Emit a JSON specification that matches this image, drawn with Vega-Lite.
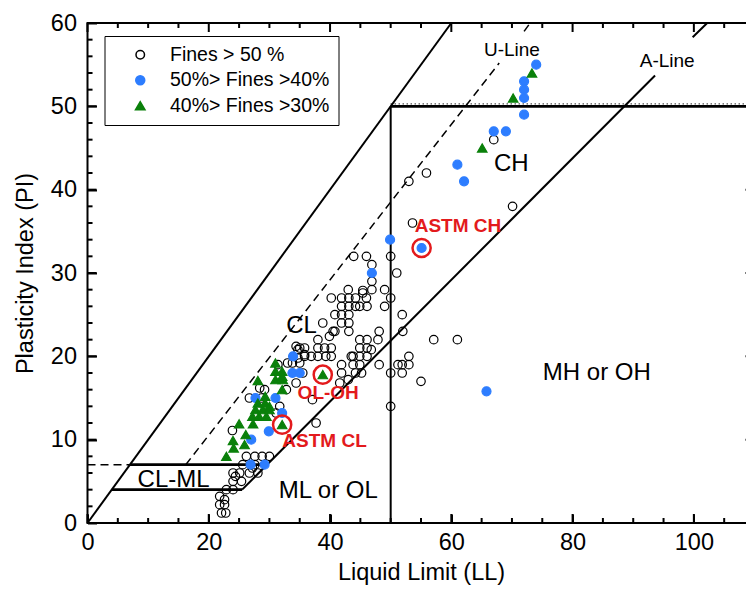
{
  "$schema": "https://vega.github.io/schema/vega-lite/v6.json",
  "width": 667,
  "height": 500,
  "autosize": "none",
  "padding": {"left": 87.5, "top": 23, "right": -8.5, "bottom": 68},
  "config": {
    "font": "Liberation Sans",
    "view": {"stroke": "black", "strokeWidth": 2},
    "axis": {"grid": false, "domain": false, "labelColor": "black", "titleColor": "black", "labelFont": "Liberation Sans", "titleFont": "Liberation Sans", "labelFontSize": 23.5, "titleFontSize": 23.5, "titleFontWeight": "normal", "labelOverlap": false, "labelFlush": false}
  },
  "datasets": {
    "xticks": [
      {"v": 0, "t": "major"}, {"v": 5, "t": "minor"}, {"v": 10, "t": "minor"}, {"v": 15, "t": "minor"},
      {"v": 20, "t": "major"}, {"v": 25, "t": "minor"}, {"v": 30, "t": "minor"}, {"v": 35, "t": "minor"},
      {"v": 40, "t": "major"}, {"v": 45, "t": "minor"}, {"v": 50, "t": "minor"}, {"v": 55, "t": "minor"},
      {"v": 60, "t": "major"}, {"v": 65, "t": "minor"}, {"v": 70, "t": "minor"}, {"v": 75, "t": "minor"},
      {"v": 80, "t": "major"}, {"v": 85, "t": "minor"}, {"v": 90, "t": "minor"}, {"v": 95, "t": "minor"},
      {"v": 100, "t": "major"}, {"v": 105, "t": "minor"}
    ],
    "yticks": [
      {"v": 0, "t": "major"}, {"v": 2, "t": "minor"}, {"v": 4, "t": "minor"}, {"v": 6, "t": "minor"}, {"v": 8, "t": "minor"},
      {"v": 10, "t": "major"}, {"v": 12, "t": "minor"}, {"v": 14, "t": "minor"}, {"v": 16, "t": "minor"}, {"v": 18, "t": "minor"},
      {"v": 20, "t": "major"}, {"v": 22, "t": "minor"}, {"v": 24, "t": "minor"}, {"v": 26, "t": "minor"}, {"v": 28, "t": "minor"},
      {"v": 30, "t": "major"}, {"v": 32, "t": "minor"}, {"v": 34, "t": "minor"}, {"v": 36, "t": "minor"}, {"v": 38, "t": "minor"},
      {"v": 40, "t": "major"}, {"v": 42, "t": "minor"}, {"v": 44, "t": "minor"}, {"v": 46, "t": "minor"}, {"v": 48, "t": "minor"},
      {"v": 50, "t": "major"}, {"v": 52, "t": "minor"}, {"v": 54, "t": "minor"}, {"v": 56, "t": "minor"}, {"v": 58, "t": "minor"},
      {"v": 60, "t": "major"}
    ],
    "lines": [
      {"seg": "PI=LL", "kind": "solid", "o": 0, "ll": 0, "pi": 0},
      {"seg": "PI=LL", "kind": "solid", "o": 1, "ll": 60, "pi": 60},
      {"seg": "A1", "kind": "solid", "o": 0, "ll": 25.5, "pi": 4},
      {"seg": "A1", "kind": "solid", "o": 1, "ll": 93.6, "pi": 53.7},
      {"seg": "A2", "kind": "solid", "o": 0, "ll": 99.8, "pi": 58.3},
      {"seg": "A2", "kind": "solid", "o": 1, "ll": 102.2, "pi": 60},
      {"seg": "LL50", "kind": "solid", "o": 0, "ll": 50, "pi": 0},
      {"seg": "LL50", "kind": "solid", "o": 1, "ll": 50, "pi": 50},
      {"seg": "PI50", "kind": "thick", "o": 0, "ll": 50, "pi": 50},
      {"seg": "PI50", "kind": "thick", "o": 1, "ll": 110, "pi": 50},
      {"seg": "PI7", "kind": "thick", "o": 0, "ll": 7, "pi": 7},
      {"seg": "PI7", "kind": "thick", "o": 1, "ll": 29.6, "pi": 7},
      {"seg": "PI4", "kind": "thick", "o": 0, "ll": 4, "pi": 4},
      {"seg": "PI4", "kind": "thick", "o": 1, "ll": 25.5, "pi": 4},
      {"seg": "PI7d", "kind": "dash", "o": 0, "ll": 0, "pi": 7},
      {"seg": "PI7d", "kind": "dash", "o": 1, "ll": 7, "pi": 7},
      {"seg": "U1", "kind": "dash", "o": 0, "ll": 16.2, "pi": 7},
      {"seg": "U1", "kind": "dash", "o": 1, "ll": 67.9, "pi": 55.2},
      {"seg": "U2", "kind": "dash", "o": 0, "ll": 72, "pi": 59},
      {"seg": "U2", "kind": "dash", "o": 1, "ll": 73, "pi": 60},
      {"seg": "PI50dot", "kind": "dot", "o": 0, "ll": 50, "pi": 50.3},
      {"seg": "PI50dot", "kind": "dot", "o": 1, "ll": 110, "pi": 50.3}
    ],
    "points": [
      {"s": "Fines > 50 %", "ll": 67, "pi": 46}, {"s": "Fines > 50 %", "ll": 55.9, "pi": 42}, {"s": "Fines > 50 %", "ll": 53, "pi": 41},
      {"s": "Fines > 50 %", "ll": 70.1, "pi": 38}, {"s": "Fines > 50 %", "ll": 53.6, "pi": 36}, {"s": "Fines > 50 %", "ll": 43.9, "pi": 32},
      {"s": "Fines > 50 %", "ll": 46, "pi": 32}, {"s": "Fines > 50 %", "ll": 50, "pi": 32}, {"s": "Fines > 50 %", "ll": 46.9, "pi": 31},
      {"s": "Fines > 50 %", "ll": 51, "pi": 30}, {"s": "Fines > 50 %", "ll": 46.9, "pi": 29}, {"s": "Fines > 50 %", "ll": 46.9, "pi": 28},
      {"s": "Fines > 50 %", "ll": 43, "pi": 28}, {"s": "Fines > 50 %", "ll": 49, "pi": 28}, {"s": "Fines > 50 %", "ll": 45.4, "pi": 27.6},
      {"s": "Fines > 50 %", "ll": 50, "pi": 27}, {"s": "Fines > 50 %", "ll": 49, "pi": 26}, {"s": "Fines > 50 %", "ll": 51.9, "pi": 25},
      {"s": "Fines > 50 %", "ll": 52, "pi": 23}, {"s": "Fines > 50 %", "ll": 57.1, "pi": 22}, {"s": "Fines > 50 %", "ll": 61, "pi": 22},
      {"s": "Fines > 50 %", "ll": 53, "pi": 20}, {"s": "Fines > 50 %", "ll": 51.9, "pi": 19}, {"s": "Fines > 50 %", "ll": 53, "pi": 19},
      {"s": "Fines > 50 %", "ll": 51.9, "pi": 18}, {"s": "Fines > 50 %", "ll": 50, "pi": 18}, {"s": "Fines > 50 %", "ll": 55, "pi": 17},
      {"s": "Fines > 50 %", "ll": 50, "pi": 14}, {"s": "Fines > 50 %", "ll": 46, "pi": 27}, {"s": "Fines > 50 %", "ll": 46.1, "pi": 26},
      {"s": "Fines > 50 %", "ll": 41.9, "pi": 27}, {"s": "Fines > 50 %", "ll": 43.1, "pi": 27}, {"s": "Fines > 50 %", "ll": 44.2, "pi": 27},
      {"s": "Fines > 50 %", "ll": 40.2, "pi": 27}, {"s": "Fines > 50 %", "ll": 41.9, "pi": 26}, {"s": "Fines > 50 %", "ll": 43.1, "pi": 26},
      {"s": "Fines > 50 %", "ll": 44.2, "pi": 26}, {"s": "Fines > 50 %", "ll": 44.9, "pi": 26}, {"s": "Fines > 50 %", "ll": 41.9, "pi": 25},
      {"s": "Fines > 50 %", "ll": 43.1, "pi": 25}, {"s": "Fines > 50 %", "ll": 40.8, "pi": 25}, {"s": "Fines > 50 %", "ll": 41.9, "pi": 24},
      {"s": "Fines > 50 %", "ll": 43.1, "pi": 24}, {"s": "Fines > 50 %", "ll": 40.8, "pi": 23}, {"s": "Fines > 50 %", "ll": 43.1, "pi": 23},
      {"s": "Fines > 50 %", "ll": 38.8, "pi": 24}, {"s": "Fines > 50 %", "ll": 39.9, "pi": 22.4}, {"s": "Fines > 50 %", "ll": 38, "pi": 22},
      {"s": "Fines > 50 %", "ll": 39.1, "pi": 21}, {"s": "Fines > 50 %", "ll": 38, "pi": 21}, {"s": "Fines > 50 %", "ll": 40.2, "pi": 21},
      {"s": "Fines > 50 %", "ll": 36.9, "pi": 20}, {"s": "Fines > 50 %", "ll": 38, "pi": 20}, {"s": "Fines > 50 %", "ll": 39.3, "pi": 20},
      {"s": "Fines > 50 %", "ll": 40.2, "pi": 20}, {"s": "Fines > 50 %", "ll": 35.8, "pi": 21}, {"s": "Fines > 50 %", "ll": 34.7, "pi": 20.8},
      {"s": "Fines > 50 %", "ll": 35.8, "pi": 20}, {"s": "Fines > 50 %", "ll": 41.9, "pi": 19}, {"s": "Fines > 50 %", "ll": 43.5, "pi": 20},
      {"s": "Fines > 50 %", "ll": 44.9, "pi": 22}, {"s": "Fines > 50 %", "ll": 46.1, "pi": 22}, {"s": "Fines > 50 %", "ll": 47.9, "pi": 22},
      {"s": "Fines > 50 %", "ll": 48.1, "pi": 23}, {"s": "Fines > 50 %", "ll": 46.8, "pi": 20.8}, {"s": "Fines > 50 %", "ll": 44.9, "pi": 21},
      {"s": "Fines > 50 %", "ll": 46.1, "pi": 21}, {"s": "Fines > 50 %", "ll": 43.8, "pi": 20}, {"s": "Fines > 50 %", "ll": 44.9, "pi": 20},
      {"s": "Fines > 50 %", "ll": 46.1, "pi": 20}, {"s": "Fines > 50 %", "ll": 43.8, "pi": 19}, {"s": "Fines > 50 %", "ll": 44.9, "pi": 19},
      {"s": "Fines > 50 %", "ll": 44.2, "pi": 18}, {"s": "Fines > 50 %", "ll": 45.2, "pi": 18}, {"s": "Fines > 50 %", "ll": 48.1, "pi": 19},
      {"s": "Fines > 50 %", "ll": 51.2, "pi": 19}, {"s": "Fines > 50 %", "ll": 43, "pi": 17.2}, {"s": "Fines > 50 %", "ll": 41.9, "pi": 18},
      {"s": "Fines > 50 %", "ll": 41.6, "pi": 16.8}, {"s": "Fines > 50 %", "ll": 37.1, "pi": 14.8}, {"s": "Fines > 50 %", "ll": 34.4, "pi": 16.8},
      {"s": "Fines > 50 %", "ll": 35, "pi": 21}, {"s": "Fines > 50 %", "ll": 40.5, "pi": 23}, {"s": "Fines > 50 %", "ll": 45.4, "pi": 27.9},
      {"s": "Fines > 50 %", "ll": 33, "pi": 19.2}, {"s": "Fines > 50 %", "ll": 35.5, "pi": 18}, {"s": "Fines > 50 %", "ll": 35.8, "pi": 20.2},
      {"s": "Fines > 50 %", "ll": 35, "pi": 19.2}, {"s": "Fines > 50 %", "ll": 32.8, "pi": 16}, {"s": "Fines > 50 %", "ll": 29.2, "pi": 16},
      {"s": "Fines > 50 %", "ll": 31.7, "pi": 14}, {"s": "Fines > 50 %", "ll": 31.4, "pi": 19}, {"s": "Fines > 50 %", "ll": 33.8, "pi": 19.2},
      {"s": "Fines > 50 %", "ll": 34.7, "pi": 19.8}, {"s": "Fines > 50 %", "ll": 28.4, "pi": 16.2}, {"s": "Fines > 50 %", "ll": 28.7, "pi": 15},
      {"s": "Fines > 50 %", "ll": 31.1, "pi": 13.2}, {"s": "Fines > 50 %", "ll": 37.7, "pi": 12}, {"s": "Fines > 50 %", "ll": 26.7, "pi": 15},
      {"s": "Fines > 50 %", "ll": 23.9, "pi": 11.1}, {"s": "Fines > 50 %", "ll": 26.2, "pi": 8}, {"s": "Fines > 50 %", "ll": 27.6, "pi": 8},
      {"s": "Fines > 50 %", "ll": 28.8, "pi": 8}, {"s": "Fines > 50 %", "ll": 30, "pi": 8}, {"s": "Fines > 50 %", "ll": 25.6, "pi": 7},
      {"s": "Fines > 50 %", "ll": 27.6, "pi": 7}, {"s": "Fines > 50 %", "ll": 24, "pi": 6}, {"s": "Fines > 50 %", "ll": 25.1, "pi": 6},
      {"s": "Fines > 50 %", "ll": 26.7, "pi": 6}, {"s": "Fines > 50 %", "ll": 28.1, "pi": 6}, {"s": "Fines > 50 %", "ll": 24, "pi": 5},
      {"s": "Fines > 50 %", "ll": 25.4, "pi": 5}, {"s": "Fines > 50 %", "ll": 22.9, "pi": 4}, {"s": "Fines > 50 %", "ll": 24, "pi": 4},
      {"s": "Fines > 50 %", "ll": 21.8, "pi": 3.2}, {"s": "Fines > 50 %", "ll": 22.6, "pi": 2.8}, {"s": "Fines > 50 %", "ll": 21.8, "pi": 2.2},
      {"s": "Fines > 50 %", "ll": 22.6, "pi": 2.2}, {"s": "Fines > 50 %", "ll": 22.1, "pi": 1.2}, {"s": "Fines > 50 %", "ll": 22.8, "pi": 1.2},
      {"s": "Fines > 50 %", "ll": 27.2, "pi": 6.6}, {"s": "Fines > 50 %", "ll": 24.4, "pi": 5.6}, {"s": "Fines > 50 %", "ll": 34.4, "pi": 21.2},
      {"s": "50%> Fines >40%", "ll": 74, "pi": 55}, {"s": "50%> Fines >40%", "ll": 72, "pi": 53}, {"s": "50%> Fines >40%", "ll": 72, "pi": 52},
      {"s": "50%> Fines >40%", "ll": 72, "pi": 51}, {"s": "50%> Fines >40%", "ll": 72, "pi": 49}, {"s": "50%> Fines >40%", "ll": 67, "pi": 47},
      {"s": "50%> Fines >40%", "ll": 69, "pi": 47}, {"s": "50%> Fines >40%", "ll": 61, "pi": 43}, {"s": "50%> Fines >40%", "ll": 62.1, "pi": 41},
      {"s": "50%> Fines >40%", "ll": 55.1, "pi": 33}, {"s": "50%> Fines >40%", "ll": 49.9, "pi": 34}, {"s": "50%> Fines >40%", "ll": 46.9, "pi": 30},
      {"s": "50%> Fines >40%", "ll": 65.8, "pi": 15.8}, {"s": "50%> Fines >40%", "ll": 33.9, "pi": 20}, {"s": "50%> Fines >40%", "ll": 33.8, "pi": 18},
      {"s": "50%> Fines >40%", "ll": 35, "pi": 18}, {"s": "50%> Fines >40%", "ll": 27.7, "pi": 15}, {"s": "50%> Fines >40%", "ll": 31, "pi": 15},
      {"s": "50%> Fines >40%", "ll": 32.1, "pi": 13.2}, {"s": "50%> Fines >40%", "ll": 29.9, "pi": 11}, {"s": "50%> Fines >40%", "ll": 27, "pi": 10},
      {"s": "50%> Fines >40%", "ll": 26.9, "pi": 7}, {"s": "50%> Fines >40%", "ll": 29.2, "pi": 7},
      {"s": "40%> Fines >30%", "ll": 73.3, "pi": 54}, {"s": "40%> Fines >30%", "ll": 70.2, "pi": 51}, {"s": "40%> Fines >30%", "ll": 65.1, "pi": 45},
      {"s": "40%> Fines >30%", "ll": 38.8, "pi": 17.8}, {"s": "40%> Fines >30%", "ll": 31, "pi": 19.2}, {"s": "40%> Fines >30%", "ll": 31, "pi": 18.2},
      {"s": "40%> Fines >30%", "ll": 32.1, "pi": 18.2}, {"s": "40%> Fines >30%", "ll": 31, "pi": 17.2}, {"s": "40%> Fines >30%", "ll": 32.2, "pi": 17.2},
      {"s": "40%> Fines >30%", "ll": 28.1, "pi": 17.1}, {"s": "40%> Fines >30%", "ll": 32.1, "pi": 16}, {"s": "40%> Fines >30%", "ll": 29.3, "pi": 15.2},
      {"s": "40%> Fines >30%", "ll": 28.1, "pi": 14.4}, {"s": "40%> Fines >30%", "ll": 29.3, "pi": 14.4}, {"s": "40%> Fines >30%", "ll": 30, "pi": 14},
      {"s": "40%> Fines >30%", "ll": 27.7, "pi": 13.6}, {"s": "40%> Fines >30%", "ll": 28.9, "pi": 13.6}, {"s": "40%> Fines >30%", "ll": 30, "pi": 13.6},
      {"s": "40%> Fines >30%", "ll": 27.2, "pi": 12.8}, {"s": "40%> Fines >30%", "ll": 28.3, "pi": 12.8}, {"s": "40%> Fines >30%", "ll": 29.5, "pi": 12.8},
      {"s": "40%> Fines >30%", "ll": 27.3, "pi": 11.9}, {"s": "40%> Fines >30%", "ll": 32.1, "pi": 11.8}, {"s": "40%> Fines >30%", "ll": 25, "pi": 11.9},
      {"s": "40%> Fines >30%", "ll": 26.1, "pi": 10.6}, {"s": "40%> Fines >30%", "ll": 24, "pi": 9.9}, {"s": "40%> Fines >30%", "ll": 25.9, "pi": 9.4},
      {"s": "40%> Fines >30%", "ll": 24.1, "pi": 9}, {"s": "40%> Fines >30%", "ll": 22.9, "pi": 8}, {"s": "40%> Fines >30%", "ll": 32.1, "pi": 17.6}
    ],
    "rings": [
      {"name": "ASTM CH", "ll": 55.1, "pi": 33},
      {"name": "OL-OH", "ll": 38.8, "pi": 17.8},
      {"name": "ASTM CL", "ll": 32.1, "pi": 11.8}
    ],
    "labels": [
      {"kind": "big", "text": "CH", "ll": 69.9, "pi": 43.1},
      {"kind": "big", "text": "CL", "ll": 35.3, "pi": 23.6},
      {"kind": "big", "text": "CL-ML", "ll": 14.2, "pi": 5.2},
      {"kind": "big", "text": "ML or OL", "ll": 39.7, "pi": 3.8},
      {"kind": "big", "text": "MH or OH", "ll": 84, "pi": 18},
      {"kind": "line", "text": "U-Line", "ll": 70, "pi": 56.8},
      {"kind": "line", "text": "A-Line", "ll": 95.6, "pi": 55.5},
      {"kind": "astm", "text": "ASTM CH", "ll": 61.1, "pi": 35.6},
      {"kind": "astm", "text": "OL-OH", "ll": 39.7, "pi": 15.6},
      {"kind": "astm", "text": "ASTM CL", "ll": 39.1, "pi": 9.9}
    ]
  },
  "layer": [
    {
      "data": {"name": "lines"},
      "transform": [{"filter": "datum.kind === 'solid'"}],
      "mark": {"type": "line", "color": "black", "strokeWidth": 2},
      "encoding": {
        "x": {"field": "ll", "type": "quantitative", "scale": {"domain": [0, 110], "nice": false, "zero": false},
          "axis": {"orient": "bottom", "title": "Liquid Limit (LL)", "values": [0, 20, 40, 60, 80, 100], "ticks": true, "tickColor": "black", "tickWidth": 2, "offset": -9, "tickSize": 9, "labelPadding": 7, "titlePadding": 7}},
        "y": {"field": "pi", "type": "quantitative", "scale": {"domain": [0, 60], "nice": false, "zero": false},
          "axis": {"orient": "left", "title": "Plasticity Index (PI)", "values": [0, 10, 20, 30, 40, 50, 60], "ticks": true, "tickColor": "black", "tickWidth": 2, "offset": -9, "tickSize": 9, "labelPadding": 11, "titlePadding": 13}},
        "detail": {"field": "seg"},
        "order": {"field": "o"}
      }
    },
    {
      "data": {"name": "lines"},
      "transform": [{"filter": "datum.kind === 'thick'"}],
      "mark": {"type": "line", "color": "black", "strokeWidth": 2.8},
      "encoding": {
        "x": {"field": "ll", "type": "quantitative", "axis": null},
        "y": {"field": "pi", "type": "quantitative", "axis": null},
        "detail": {"field": "seg"},
        "order": {"field": "o"}
      }
    },
    {
      "data": {"name": "lines"},
      "transform": [{"filter": "datum.kind === 'dash'"}],
      "mark": {"type": "line", "color": "black", "strokeWidth": 1.5, "strokeDash": [8, 5]},
      "encoding": {
        "x": {"field": "ll", "type": "quantitative", "axis": null},
        "y": {"field": "pi", "type": "quantitative", "axis": null},
        "detail": {"field": "seg"},
        "order": {"field": "o"}
      }
    },
    {
      "data": {"name": "lines"},
      "transform": [{"filter": "datum.kind === 'dot'"}],
      "mark": {"type": "line", "color": "black", "strokeWidth": 1.2, "strokeDash": [1, 3]},
      "encoding": {
        "x": {"field": "ll", "type": "quantitative", "axis": null},
        "y": {"field": "pi", "type": "quantitative", "axis": null},
        "detail": {"field": "seg"},
        "order": {"field": "o"}
      }
    },
    {
      "data": {"name": "xticks"},
      "transform": [{"filter": "datum.t === 'major'"}],
      "mark": {"type": "rule", "color": "black", "strokeWidth": 2},
      "encoding": {"x": {"field": "v", "type": "quantitative", "axis": null}, "y": {"datum": 0, "type": "quantitative", "axis": null}, "y2": {"datum": 1.08}}
    },
    {
      "data": {"name": "xticks"},
      "transform": [{"filter": "datum.t === 'minor'"}],
      "mark": {"type": "rule", "color": "black", "strokeWidth": 2},
      "encoding": {"x": {"field": "v", "type": "quantitative", "axis": null}, "y": {"datum": 0, "type": "quantitative", "axis": null}, "y2": {"datum": 0.6}}
    },
    {
      "data": {"name": "xticks"},
      "transform": [{"filter": "datum.t === 'major'"}],
      "mark": {"type": "rule", "color": "black", "strokeWidth": 2},
      "encoding": {"x": {"field": "v", "type": "quantitative", "axis": null}, "y": {"datum": 60, "type": "quantitative", "axis": null}, "y2": {"datum": 58.92}}
    },
    {
      "data": {"name": "xticks"},
      "transform": [{"filter": "datum.t === 'minor'"}],
      "mark": {"type": "rule", "color": "black", "strokeWidth": 2},
      "encoding": {"x": {"field": "v", "type": "quantitative", "axis": null}, "y": {"datum": 60, "type": "quantitative", "axis": null}, "y2": {"datum": 59.4}}
    },
    {
      "data": {"name": "yticks"},
      "transform": [{"filter": "datum.t === 'major'"}],
      "mark": {"type": "rule", "color": "black", "strokeWidth": 2},
      "encoding": {"y": {"field": "v", "type": "quantitative", "axis": null}, "x": {"datum": 0, "type": "quantitative", "axis": null}, "x2": {"datum": 1.49}}
    },
    {
      "data": {"name": "yticks"},
      "transform": [{"filter": "datum.t === 'minor'"}],
      "mark": {"type": "rule", "color": "black", "strokeWidth": 2},
      "encoding": {"y": {"field": "v", "type": "quantitative", "axis": null}, "x": {"datum": 0, "type": "quantitative", "axis": null}, "x2": {"datum": 0.83}}
    },
    {
      "data": {"name": "yticks"},
      "transform": [{"filter": "datum.t === 'major'"}],
      "mark": {"type": "rule", "color": "black", "strokeWidth": 2, "x2Offset": -9},
      "encoding": {"y": {"field": "v", "type": "quantitative", "axis": null}, "x": {"datum": 110, "type": "quantitative", "axis": null}, "x2": {"datum": 110}}
    },
    {
      "data": {"name": "yticks"},
      "transform": [{"filter": "datum.t === 'minor'"}],
      "mark": {"type": "rule", "color": "black", "strokeWidth": 2, "x2Offset": -5},
      "encoding": {"y": {"field": "v", "type": "quantitative", "axis": null}, "x": {"datum": 110, "type": "quantitative", "axis": null}, "x2": {"datum": 110}}
    },
    {
      "data": {"name": "points"},
      "mark": {"type": "point", "strokeWidth": 1.2, "opacity": 1},
      "encoding": {
        "x": {"field": "ll", "type": "quantitative", "axis": null},
        "y": {"field": "pi", "type": "quantitative", "axis": null},
        "shape": {"field": "s", "type": "nominal", "scale": {"domain": ["Fines > 50 %", "50%> Fines >40%", "40%> Fines >30%"], "range": ["circle", "circle", "triangle-up"]},
          "legend": {"orient": "none", "legendX": 17, "legendY": 13, "title": null, "padding": 9, "symbolOffset": 17, "labelOffset": 20, "labelFontSize": 19.5, "labelFont": "Liberation Sans", "rowPadding": 4.5, "strokeColor": "black",
            "encode": {"legend": {"update": {"strokeWidth": {"value": 1.5}}}, "labels": {"update": {"fill": {"signal": "datum.label === 'Fines > 50 %' ? 'black' : datum.label === '50%> Fines >40%' ? '#3b80ff' : '#148c14'"}}}}}},
        "fill": {"field": "s", "type": "nominal", "scale": {"domain": ["Fines > 50 %", "50%> Fines >40%", "40%> Fines >30%"], "range": ["transparent", "#2d7dff", "#0a800a"]}},
        "stroke": {"field": "s", "type": "nominal", "scale": {"domain": ["Fines > 50 %", "50%> Fines >40%", "40%> Fines >30%"], "range": ["black", "#2d7dff", "#0a800a"]}},
        "size": {"field": "s", "type": "nominal", "scale": {"domain": ["Fines > 50 %", "50%> Fines >40%", "40%> Fines >30%"], "range": [72, 90, 120]}}
      }
    },
    {
      "data": {"name": "rings"},
      "mark": {"type": "point", "shape": "circle", "filled": false, "color": "#e31a1c", "strokeWidth": 2.5, "size": 330, "opacity": 1},
      "encoding": {
        "x": {"field": "ll", "type": "quantitative", "axis": null},
        "y": {"field": "pi", "type": "quantitative", "axis": null}
      }
    },
    {
      "data": {"name": "labels"},
      "transform": [{"filter": "datum.kind === 'big'"}],
      "mark": {"type": "text", "fontSize": 24, "color": "black", "align": "center", "baseline": "middle", "font": "Liberation Sans"},
      "encoding": {
        "x": {"field": "ll", "type": "quantitative", "axis": null},
        "y": {"field": "pi", "type": "quantitative", "axis": null},
        "text": {"field": "text"}
      }
    },
    {
      "data": {"name": "labels"},
      "transform": [{"filter": "datum.kind === 'line'"}],
      "mark": {"type": "text", "fontSize": 19, "color": "black", "align": "center", "baseline": "middle", "font": "Liberation Sans"},
      "encoding": {
        "x": {"field": "ll", "type": "quantitative", "axis": null},
        "y": {"field": "pi", "type": "quantitative", "axis": null},
        "text": {"field": "text"}
      }
    },
    {
      "data": {"name": "labels"},
      "transform": [{"filter": "datum.kind === 'astm'"}],
      "mark": {"type": "text", "fontSize": 19, "fontWeight": "bold", "color": "#e31a1c", "align": "center", "baseline": "middle", "font": "Liberation Sans"},
      "encoding": {
        "x": {"field": "ll", "type": "quantitative", "axis": null},
        "y": {"field": "pi", "type": "quantitative", "axis": null},
        "text": {"field": "text"}
      }
    }
  ],
  "resolve": {"axis": {"x": "independent", "y": "independent"}}
}
